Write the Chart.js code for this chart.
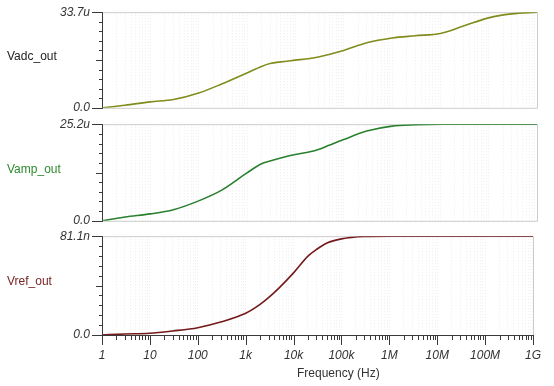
<!DOCTYPE html>
<html>
<head>
<meta charset="utf-8">
<script src="https://cdn.jsdelivr.net/npm/chart.js@4"></script>
<style>
  body { margin: 0; background: #fff; width: 554px; height: 386px; position: relative; overflow: hidden;
         font-family: "Liberation Sans", Arial, sans-serif; }
  canvas { position: absolute; left: 0; }
  .lbl { position: absolute; font-size: 12px; line-height: 14px; white-space: nowrap; }
</style>
</head>
<body>
<!-- chart areas end up 18px below each canvas top (label padding), so canvases are shifted -->
<canvas id="c1" width="554" height="134" style="top:-7px"></canvas>
<canvas id="c2" width="554" height="135" style="top:105px"></canvas>
<canvas id="c3" width="554" height="170" style="top:217px"></canvas>
<div class="lbl" style="left:7px;top:49px;color:#222">Vadc_out</div>
<div class="lbl" style="left:7px;top:162px;color:#2f8a2f">Vamp_out</div>
<div class="lbl" style="left:7px;top:274px;color:#7a2424">Vref_out</div>
<div class="lbl" style="left:297px;top:366px;color:#333">Frequency (Hz)</div>
<script>
// data
const freqs = [1, 3, 10, 30, 100, 300, 1e3, 2e3, 3e3, 5e3, 1e4, 2e4, 3e4, 5e4, 1e5, 3e5, 1e6, 3e6, 1e7, 3e7, 1e8, 3e8, 1e9];
const vadc = [0, 0.9, 2.1, 2.9, 5.2, 8.4, 12.3, 14.6, 15.6, 16.2, 16.8, 17.4, 17.9, 18.8, 20.2, 22.9, 24.6, 25.4, 26.2, 28.8, 31.7, 33.1, 33.7];   // u
const vamp = [0, 1.0, 1.8, 2.9, 5.2, 8.0, 12.5, 14.9, 15.6, 16.4, 17.3, 18.0, 18.6, 19.7, 21.2, 23.4, 24.7, 25.05, 25.2, 25.2, 25.2, 25.2, 25.2]; // u
const vref = [0, 0.8, 1.4, 3.3, 6.0, 10.6, 17.8, 25.1, 30.6, 38.7, 51.0, 64.7, 70.2, 75.6, 78.9, 80.8, 81.1, 81.1, 81.1, 81.1, 81.1, 81.1, 81.1]; // n
const decadeLabels = ['1', '10', '100', '1k', '10k', '100k', '1M', '10M', '100M', '1G'];

const panels = [
  { id: 'c1', data: vadc, max: 33.7, top: '33.7u', color: '#808c1c', padBottom: 0, axis: false },
  { id: 'c2', data: vamp, max: 25.2, top: '25.2u', color: '#2b8030', padBottom: 0, axis: false },
  { id: 'c3', data: vref, max: 81.1, top: '81.1n', color: '#741a1a', padBottom: 22, axis: true }
];

// log ticks 1..9 per decade
const xTicks = [];
for (let k = 0; k < 9; k++) for (let m = 1; m <= 9; m++) xTicks.push({ value: m * 10 ** k, major: m === 1 });
xTicks.push({ value: 1e9, major: true });

const tickFont = { family: '"Liberation Sans", Arial, sans-serif', size: 12, style: 'italic' };

// frame, axis lines and tick marks
const frame = {
  id: 'frame',
  beforeDatasetsDraw(chart, args, opts) {
    const { ctx, chartArea: a, scales: { x, y } } = chart;
    ctx.save();
    ctx.lineWidth = 1;
    ctx.strokeStyle = '#cccccc';
    ctx.beginPath();
    ctx.moveTo(a.left, a.top + 0.5);
    ctx.lineTo(a.right + 0.5, a.top + 0.5);
    ctx.lineTo(a.right + 0.5, a.bottom + 0.5);
    if (!opts.axis) ctx.lineTo(a.left, a.bottom + 0.5);
    ctx.stroke();

    ctx.strokeStyle = '#3a3a3a';
    ctx.beginPath();
    ctx.moveTo(a.left + 0.5, a.top);
    ctx.lineTo(a.left + 0.5, a.bottom + 1);
    y.ticks.forEach((t, i) => {
      const py = Math.round(y.getPixelForValue(t.value)) + 0.5;
      const len = (i === 0 || i === 10) ? 10 : (i === 5 ? 6 : 3);
      ctx.moveTo(a.left - len, py);
      ctx.lineTo(a.left + 0.5, py);
    });
    if (opts.axis) {
      ctx.moveTo(a.left, a.bottom + 0.5);
      ctx.lineTo(a.right + 1, a.bottom + 0.5);
      x.ticks.forEach(t => {
        const px = Math.round(x.getPixelForValue(t.value)) + 0.5;
        ctx.moveTo(px, a.bottom);
        ctx.lineTo(px, a.bottom + (t.major ? 10 : 5));
      });
    }
    ctx.stroke();
    ctx.restore();
  }
};

panels.forEach(p => {
  new Chart(document.getElementById(p.id), {
    type: 'line',
    data: {
      datasets: [{
        data: freqs.map((f, i) => ({ x: f, y: p.data[i] })),
        borderColor: p.color, borderWidth: 1.6, pointRadius: 0,
        cubicInterpolationMode: 'monotone', tension: 0.4
      }]
    },
    options: {
      responsive: false, animation: false, parsing: false,
      layout: { padding: { top: 0, bottom: p.padBottom, left: 0, right: 17 } },
      plugins: { legend: { display: false }, tooltip: { enabled: false }, frame: { axis: p.axis } },
      scales: {
        x: {
          type: 'logarithmic', min: 1, max: 1e9,
          afterBuildTicks: s => { s.ticks = xTicks.map(t => ({ ...t })); },
          afterFit: s => { s.height = p.axis ? 30 : 0; },
          ticks: {
            display: p.axis, autoSkip: false, maxRotation: 0, minRotation: 0, padding: 13,
            color: '#333', font: tickFont,
            callback: (v, i) => (i % 9 === 0 ? decadeLabels[i / 9] : '')
          },
          grid: { drawTicks: false, color: '#eeeeee', lineWidth: 1 },
          border: { display: false, dash: [1, 2] }
        },
        y: {
          type: 'linear', min: 0, max: p.max,
          afterBuildTicks: s => { s.ticks = Array.from({ length: 11 }, (_, i) => ({ value: p.max * i / 10 })); },
          afterFit: s => { s.width = 102; },
          ticks: {
            autoSkip: false, padding: 12, color: '#333', font: tickFont,
            callback: (v, i) => (i === 0 ? '0.0' : (i === 10 ? p.top : ''))
          },
          grid: { display: false, drawTicks: false },
          border: { display: false }
        }
      }
    },
    plugins: [frame]
  });
});
</script>
</body>
</html>
